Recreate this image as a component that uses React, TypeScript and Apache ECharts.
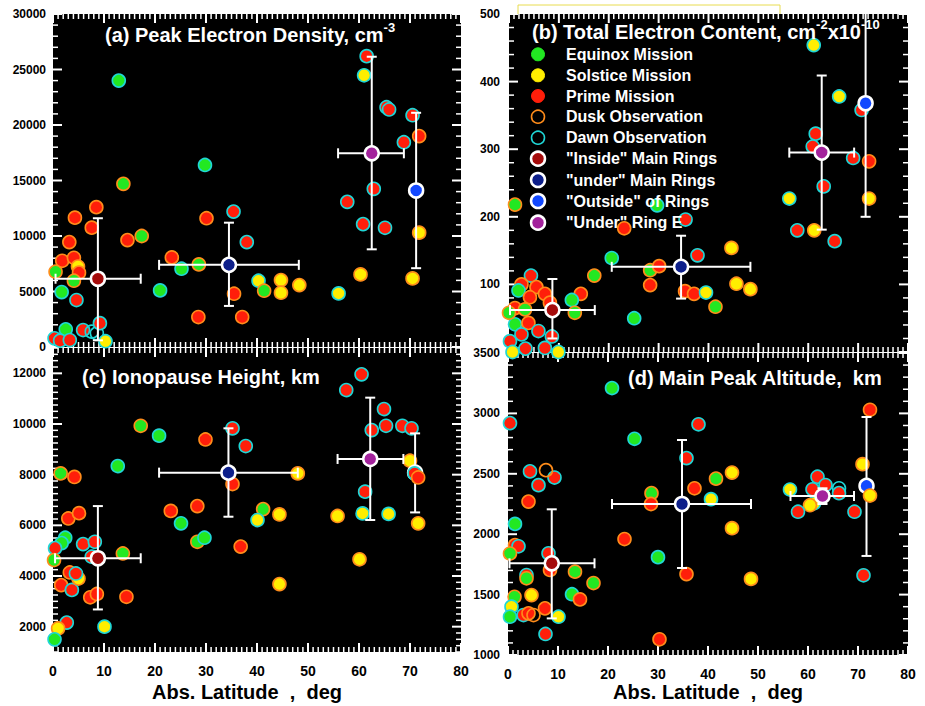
import React, { useEffect, useRef } from 'react';
import * as echarts from 'echarts';

type Pt = [number, number, string];
type Mean = [number, number, number, number, number, number];

// code: mission (E equinox, S solstice, P prime, O open) + observation (k dusk, n dawn)
const densityPoints: Pt[] = [
  [12.9, 24000, 'En'], [13.8, 14700, 'Ek'], [29.8, 16400, 'En'], [8.5, 12600, 'Pk'], [4.3, 11650, 'Pk'],
  [30.1, 11600, 'Pk'], [35.4, 12200, 'Pn'], [38.0, 9450, 'Pn'], [7.6, 10750, 'Pk'], [3.2, 9450, 'Pk'],
  [14.6, 9630, 'Pk'], [17.4, 10000, 'Ek'], [1.8, 7770, 'Pk'], [4.1, 8040, 'Pk'], [4.9, 7250, 'Sk'],
  [5.1, 6700, 'Pk'], [0.5, 6780, 'Ek'], [4.1, 5970, 'Ek'], [1.7, 4950, 'En'], [4.6, 4230, 'Pn'],
  [23.3, 8070, 'Pk'], [25.2, 7050, 'En'], [28.6, 7440, 'Ek'], [21.0, 5100, 'En'], [35.5, 4800, 'Pk'],
  [28.5, 2700, 'Pk'], [37.1, 2700, 'Pk'], [40.3, 5970, 'Sn'], [41.4, 5070, 'Ek'], [44.7, 6030, 'Sk'],
  [44.7, 4890, 'Sk'], [48.3, 5580, 'Sk'], [56.0, 4830, 'Sn'], [60.3, 6540, 'Sk'], [57.7, 13080, 'Pn'],
  [60.8, 11070, 'Pn'], [62.9, 14250, 'Pn'], [65.1, 10740, 'Pn'], [61.5, 26200, 'Pn'], [61.0, 24480, 'Sn'],
  [65.4, 21600, 'Pn'], [65.9, 21400, 'Pn'], [70.5, 20880, 'Pn'], [68.8, 18450, 'Pn'], [71.8, 19000, 'Pk'],
  [71.8, 10300, 'Sk'], [70.5, 6180, 'Sk'], [2.5, 1590, 'En'], [0.3, 780, 'Pn'], [1.4, 570, 'Pn'],
  [3.3, 630, 'Pn'], [5.9, 1530, 'Pn'], [7.6, 1380, 'On'], [8.6, 1230, 'On'], [9.2, 2150, 'Pn'],
  [10.3, 520, 'Sn'],
];
const densityMeans: Mean[] = [
  [8.8, 6150, 0.5, 17.2, 600, 11600],
  [34.5, 7400, 20.8, 48.2, 3700, 11200],
  [71.2, 14100, 71.2, 71.2, 7100, 21100],
  [62.5, 17450, 55.9, 68.8, 8800, 26150],
];

const tecPoints: Pt[] = [
  [61.1, 454, 'Sn'], [66.2, 378, 'Sn'], [70.7, 358, 'Pn'], [61.5, 323, 'Pn'], [60.9, 304, 'Pn'],
  [69.0, 287, 'Pn'], [72.2, 282, 'Pk'], [63.1, 245, 'Pn'], [56.2, 227, 'Sn'], [72.2, 227, 'Sk'],
  [29.7, 217, 'En'], [1.2, 218, 'Ek'], [35.4, 196, 'Pn'], [23.1, 183, 'Pk'], [57.8, 180, 'Pn'],
  [61.2, 180, 'Sk'], [65.3, 164, 'Pn'], [44.6, 154, 'Sk'], [20.6, 139, 'En'], [37.8, 143, 'Pn'],
  [17.1, 113, 'Ek'], [28.3, 121, 'Ek'], [30.1, 127, 'Pk'], [28.3, 99, 'Pk'], [35.3, 90, 'Pk'],
  [37.1, 86, 'Pk'], [39.5, 88, 'Sn'], [45.6, 101, 'Sk'], [48.4, 93, 'Sk'], [41.4, 67, 'Ek'],
  [25.1, 50, 'En'], [4.4, 113, 'Pn'], [2.5, 100, 'Pk'], [1.9, 91, 'En'], [5.5, 96, 'Pk'],
  [7.2, 86, 'Pk'], [4.2, 81, 'Pk'], [14.4, 86, 'Pk'], [12.6, 77, 'En'], [1.2, 65, 'Pk'],
  [3.2, 63, 'Ek'], [13.2, 58, 'Ek'], [8.2, 73, 'Pk'], [1.2, 41, 'En'], [3.9, 43, 'Pk'],
  [5.9, 31, 'Pn'], [2.5, 26, 'Pn'], [8.6, 23, 'Pn'], [0.2, 16, 'Pn'], [3.3, 5, 'Pn'],
  [7.2, 6, 'Pn'], [0.7, 0, 'Sn'], [9.9, 0, 'Sn'], [0.0, 58, 'Ek'],
];
const tecMeans: Mean[] = [
  [8.7, 62, 0.2, 17.2, 20, 108],
  [34.5, 126, 20.6, 48.4, 79, 172],
  [71.5, 368, 71.5, 71.5, 200, 536],
  [62.7, 295, 56.2, 69.2, 181, 409],
];

const ionopausePoints: Pt[] = [
  [60.5, 11960, 'Pn'], [57.5, 11340, 'Pn'], [64.9, 10590, 'Pn'], [65.3, 9930, 'Pn'], [62.5, 9760, 'Pn'],
  [68.5, 9930, 'Pn'], [70.3, 9830, 'Pn'], [61.2, 7330, 'Pn'], [60.7, 6470, 'Sn'], [65.8, 6450, 'Sn'],
  [55.8, 6370, 'Sk'], [60.1, 4660, 'Sk'], [70.0, 8550, 'Sk'], [71.6, 6080, 'Sk'], [48.0, 8050, 'Sk'],
  [35.2, 9830, 'Pn'], [29.9, 9390, 'Pk'], [37.8, 9130, 'Pn'], [35.2, 7630, 'Pk'], [20.8, 9540, 'En'],
  [17.2, 9930, 'Ek'], [12.7, 8340, 'En'], [1.5, 8050, 'Ek'], [4.2, 7910, 'Pk'], [23.1, 6570, 'Pk'],
  [28.3, 6760, 'Pk'], [25.1, 6080, 'En'], [41.2, 6640, 'Ek'], [40.1, 6210, 'Sn'], [44.4, 6430, 'Sk'],
  [28.3, 5350, 'Ek'], [29.7, 5510, 'En'], [36.8, 5160, 'Pk'], [44.4, 3680, 'Sk'], [3.0, 6270, 'Pk'],
  [5.1, 6480, 'Pk'], [13.7, 4890, 'Ek'], [14.4, 3180, 'Pk'], [7.3, 3160, 'Pk'], [8.6, 3290, 'Pk'],
  [1.6, 3640, 'Pk'], [3.7, 3450, 'Pn'], [5.0, 3900, 'Sk'], [3.3, 4140, 'Pk'], [4.5, 4100, 'Pn'],
  [5.9, 5260, 'Pn'], [8.2, 5350, 'Pn'], [7.6, 4760, 'Pn'], [2.4, 5510, 'En'], [1.7, 5300, 'En'],
  [0.4, 5100, 'Pn'], [0.2, 4630, 'Ek'], [2.7, 2160, 'Pn'], [1.0, 1930, 'Sk'], [0.3, 1500, 'En'],
  [10.1, 2000, 'Sn'],
];
const ionopauseLate: Pt[] = [[70.9, 8050, 'Pn'], [71.6, 7890, 'Pk']];
const ionopauseMeans: Mean[] = [
  [8.8, 4700, 0.4, 17.2, 2680, 6760],
  [34.4, 8080, 20.8, 48.0, 6340, 9830],
  [71.0, 8080, 71.0, 71.0, 6510, 9630],
  [62.2, 8620, 55.8, 68.7, 6210, 11040],
];

const peakAltPoints: Pt[] = [
  [20.8, 3210, 'En'], [0.4, 2920, 'Pn'], [38.1, 2910, 'Pn'], [25.3, 2790, 'En'], [72.4, 3030, 'Pk'],
  [70.9, 2580, 'Sk'], [71.1, 1660, 'Pn'], [35.7, 2630, 'Pn'], [35.7, 1670, 'Pk'],
  [37.3, 2380, 'Pk'], [41.6, 2460, 'Ek'], [44.8, 2510, 'Sk'], [40.6, 2290, 'Sn'], [44.8, 2050, 'Sk'],
  [48.6, 1630, 'Sk'], [28.7, 2340, 'Ek'], [28.6, 2250, 'Pk'], [23.3, 1960, 'Pk'], [30.0, 1810, 'En'],
  [30.3, 1130, 'Pk'], [56.4, 2370, 'Sn'], [61.9, 2476, 'Pn'], [63.5, 2407, 'Pn'], [60.9, 2372, 'Pn'],
  [66.2, 2380, 'On'], [66.2, 2340, 'Pn'], [61.2, 2256, 'Sn'], [60.4, 2240, 'Sk'], [58.0, 2186, 'Pn'],
  [69.3, 2186, 'Pn'], [4.1, 2270, 'Pk'], [1.4, 2085, 'En'], [1.4, 1910, 'Pk'], [2.1, 1900, 'Pn'],
  [0.4, 1840, 'Ek'], [8.1, 1842, 'Pn'], [8.4, 1704, 'Pk'], [3.7, 1662, 'Pn'], [3.7, 1635, 'Ek'],
  [13.4, 1690, 'Ek'], [17.1, 1596, 'Ek'], [12.8, 1503, 'En'], [14.4, 1460, 'Pk'], [4.7, 1496, 'Sk'],
  [1.3, 1482, 'Ek'], [0.7, 1400, 'Sn'], [0.4, 1317, 'En'], [3.1, 1331, 'Pn'], [4.1, 1345, 'Pk'],
  [5.1, 1331, 'Ok'], [7.4, 1386, 'Pk'], [10.1, 1317, 'Sn'], [7.5, 1174, 'Pn'], [4.4, 2520, 'Pn'],
  [6.1, 2406, 'Pn'], [9.3, 2469, 'Pn'], [7.6, 2530, 'Ok'],
];
const peakAltLate: Pt[] = [[72.4, 2320, 'Sk']];
const peakAltMeans: Mean[] = [
  [8.75, 1759, 0.3, 17.3, 1303, 2206],
  [34.8, 2250, 20.8, 48.6, 1720, 2780],
  [71.7, 2400, 71.7, 71.7, 1820, 2970],
  [62.9, 2316, 56.5, 69.2, 2250, 2380],
];

const meanKinds = ['inside', 'under', 'outside', 'ringE'];

const legendLabels = [
  'Equinox Mission', 'Solstice Mission', 'Prime Mission', 'Dusk Observation', 'Dawn Observation',
  '"Inside" Main Rings', '"under" Main Rings', '"Outside" of Rings', '"Under" Ring E',
];

// axis ranges: [min, max, label interval, major tick step, minor tick step]
const latAxis = [0, 80, 10, 10, 1];
const densityAxis = [0, 30000, 5000, 5000, 1000];
const tecAxis = [0, 500, 100, 100, 20];
const ionopauseAxis = [1000, 13000, 1000, 2000, 250];
const peakAltAxis = [1000, 3500, 500, 500, 100];

const FONT = '"Liberation Sans", Arial, sans-serif';
const FILL: Record<string, string> = { E: '#22e822', S: '#ffee00', P: '#ff1e0a', O: 'rgba(0,0,0,0)' };
const EDGE: Record<string, string> = { k: '#ff8c1a', n: '#1fd6d6' };
const MEAN_COLOR: Record<string, string> = {
  inside: '#a50b0b', under: '#0d1f8a', outside: '#1248ff', ringE: '#a3229c',
};

const GRIDS = [
  { left: 53, top: 14, width: 408, height: 333 },
  { left: 509, top: 14, width: 399, height: 338 },
  { left: 53, top: 348, width: 408, height: 304 },
  { left: 508, top: 353, width: 400, height: 302 },
];

function steps(min: number, max: number, step: number) {
  const out: number[] = [];
  const n = Math.round((max - min) / step);
  for (let i = 0; i <= n; i++) out.push(min + i * step);
  return out;
}

function isMajor(v: number, step: number) {
  const r = Math.abs(v / step - Math.round(v / step));
  return r < 1e-6;
}

function pointItems(pts: Pt[]) {
  return pts.map((p) => ({
    value: [p[0], p[1]],
    itemStyle: { color: FILL[p[2][0]], borderColor: EDGE[p[2][1]] },
  }));
}

function backgroundSeries(gi: number, xa: number[], ya: number[]) {
  return {
    type: 'custom', xAxisIndex: gi * 2, yAxisIndex: gi * 2, data: [[xa[0], ya[0]]], encode: { x: 0, y: 1 },
    z: 1, clip: false, silent: true,
    renderItem: (params: any) => {
      const cs = params.coordSys;
      return { type: 'rect', shape: { x: cs.x, y: cs.y, width: cs.width, height: cs.height }, style: { fill: '#000000' } };
    },
  };
}

// ticks drawn as small white rect symbols of a scatter series, placed on the axis scale
function tickSeries(gi: number, xa: number[], ya: number[]) {
  const mk = (value: number[], major: boolean, horiz: boolean, sign: number) => {
    const len = major ? 9 : 5;
    const w = major ? 2 : 1.5;
    return {
      value,
      symbolSize: horiz ? [len, w] : [w, len],
      symbolOffset: horiz ? [sign * len / 2, 0] : [0, sign * len / 2],
    };
  };
  const data: any[] = [];
  steps(xa[0], xa[1], xa[4]).forEach((v) => {
    const m = isMajor(v, xa[3]);
    data.push(mk([v, ya[0]], m, false, -1));
    data.push(mk([v, ya[1]], m, false, 1));
  });
  steps(ya[0], ya[1], ya[4]).forEach((v) => {
    const m = isMajor(v, ya[3]);
    data.push(mk([xa[0], v], m, true, 1));
    data.push(mk([xa[1], v], m, true, -1));
  });
  return {
    type: 'scatter', xAxisIndex: gi * 2, yAxisIndex: gi * 2, data, symbol: 'rect', clip: false, z: 2,
    silent: true, large: false, progressive: 0,
    itemStyle: { color: '#ffffff', borderWidth: 0, opacity: 1 },
  };
}

function panelSeries(gi: number, pts: Pt[], means: Mean[], yAx: number[], late: Pt[] = []) {
  const axes = { xAxisIndex: gi * 2, yAxisIndex: gi * 2 };
  const out: any[] = [
    backgroundSeries(gi, latAxis, yAx),
    tickSeries(gi, latAxis, yAx),
    {
      type: 'scatter', ...axes, data: pointItems(pts), symbolSize: 13, clip: false, z: 3,
      itemStyle: { borderWidth: 1.6, opacity: 1 },
    },
    {
      type: 'custom', ...axes, data: means.map((m) => [...m]), encode: { x: 0, y: 1 }, z: 4, clip: false,
      renderItem: (params: any, api: any) => {
        const cs = params.coordSys;
        const c = api.coord([api.value(0), api.value(1)]);
        const xl = api.coord([api.value(2), api.value(1)])[0];
        const xh = api.coord([api.value(3), api.value(1)])[0];
        const yl = api.coord([api.value(0), api.value(4)])[1];
        const yh = api.coord([api.value(0), api.value(5)])[1];
        const st = { stroke: '#ffffff', lineWidth: 2 };
        const cap = 5;
        const top = cs.y;
        const children: any[] = [];
        const yTop = Math.max(yh, top);
        children.push({ type: 'line', shape: { x1: c[0], y1: yTop, x2: c[0], y2: yl }, style: st });
        if (yh >= top) children.push({ type: 'line', shape: { x1: c[0] - cap, y1: yh, x2: c[0] + cap, y2: yh }, style: st });
        children.push({ type: 'line', shape: { x1: c[0] - cap, y1: yl, x2: c[0] + cap, y2: yl }, style: st });
        if (xh - xl > 1) {
          children.push({ type: 'line', shape: { x1: xl, y1: c[1], x2: xh, y2: c[1] }, style: st });
          children.push({ type: 'line', shape: { x1: xl, y1: c[1] - cap, x2: xl, y2: c[1] + cap }, style: st });
          children.push({ type: 'line', shape: { x1: xh, y1: c[1] - cap, x2: xh, y2: c[1] + cap }, style: st });
        }
        return { type: 'group', children };
      },
    },
    {
      type: 'scatter', ...axes, symbolSize: 14, clip: false, z: 5,
      itemStyle: { borderColor: '#ffffff', borderWidth: 2.5, opacity: 1 },
      data: means.map((m, i) => ({ value: [m[0], m[1]], itemStyle: { color: MEAN_COLOR[meanKinds[i]] } })),
    },
  ];
  if (late.length) {
    out.push({
      type: 'scatter', ...axes, data: pointItems(late), symbolSize: 13, clip: false, z: 6,
      itemStyle: { borderWidth: 1.6, opacity: 1 },
    });
  }
  return out;
}

function xAxisFor(gi: number, labels: boolean) {
  return {
    type: 'value', gridIndex: gi, min: latAxis[0], max: latAxis[1], interval: latAxis[2], position: 'bottom',
    axisLine: { show: false }, splitLine: { show: false }, axisTick: { show: false }, minorTick: { show: false },
    axisLabel: labels
      ? { show: true, fontSize: 14, fontWeight: 'bold', fontFamily: FONT, color: '#000', margin: 12 }
      : { show: false },
  };
}

function yAxisFor(gi: number, ax: number[], margin: number, extra: any = {}) {
  return {
    type: 'value', gridIndex: gi, min: ax[0], max: ax[1], interval: ax[2], position: 'left',
    axisLine: { show: false }, splitLine: { show: false }, axisTick: { show: false }, minorTick: { show: false },
    axisLabel: {
      show: true, fontSize: 12, fontWeight: 'bold', fontFamily: FONT, color: '#000', margin,
      formatter: (v: number) => String(v), ...extra,
    },
  };
}

const supRich = {
  m: { fill: '#ffffff', fontSize: 20, fontWeight: 'bold', fontFamily: FONT },
  s: { fill: '#ffffff', fontSize: 13, fontWeight: 'bold', fontFamily: FONT, padding: [0, 0, 16, 0] },
};

function titleText(x: number, y: number, text: string) {
  return {
    type: 'text', x, y, z: 20,
    style: { text, rich: supRich, verticalAlign: 'middle', align: 'left', fill: '#ffffff' },
  };
}

function legendGraphics() {
  const rowsY = [54.3, 75.3, 96, 116.7, 137.7, 158.7, 180, 201, 222.7];
  const markers: any[] = [
    { fill: FILL.E, stroke: FILL.E, lineWidth: 1 },
    { fill: FILL.S, stroke: FILL.S, lineWidth: 1 },
    { fill: FILL.P, stroke: FILL.P, lineWidth: 1 },
    { fill: 'none', stroke: EDGE.k, lineWidth: 1.6 },
    { fill: 'none', stroke: EDGE.n, lineWidth: 1.6 },
    ...meanKinds.map((k) => ({ fill: MEAN_COLOR[k], stroke: '#ffffff', lineWidth: 2.5 })),
  ];
  const out: any[] = [];
  legendLabels.forEach((label, i) => {
    out.push({
      type: 'circle', z: 20, shape: { cx: 538, cy: rowsY[i], r: i >= 5 ? 7 : 6.5 }, style: markers[i],
    });
    out.push({
      type: 'text', x: 566, y: rowsY[i], z: 20,
      style: { text: label, fill: '#ffffff', fontSize: 16, fontWeight: 'bold', fontFamily: FONT, verticalAlign: 'middle' },
    });
  });
  return out;
}

export default function App() {
  const ref = useRef<HTMLDivElement>(null);
  useEffect(() => {
    if (!ref.current) return;
    const chart = echarts.init(ref.current, null, { renderer: 'svg' });
    const axisName = (x: number) => ({
      type: 'text', x, y: 692, z: 20,
      style: { text: 'Abs. Latitude  ,  deg', fill: '#000', fontSize: 20, fontWeight: 'bold', fontFamily: FONT, align: 'center', verticalAlign: 'middle' },
    });
    const option: any = {
      animation: false,
      backgroundColor: '#ffffff',
      grid: GRIDS.map((g) => ({ ...g, show: false })),
      xAxis: [xAxisFor(0, false), xAxisFor(0, false), xAxisFor(1, false), xAxisFor(1, false),
        xAxisFor(2, true), xAxisFor(2, false), xAxisFor(3, true), xAxisFor(3, false)].map((a, i) =>
        i % 2 === 1 ? { ...a, position: 'top', axisLabel: { show: false } } : a),
      yAxis: [
        yAxisFor(0, densityAxis, 7), { ...yAxisFor(0, densityAxis, 7), position: 'right', axisLabel: { show: false } },
        yAxisFor(1, tecAxis, 9, { showMinLabel: false }), { ...yAxisFor(1, tecAxis, 9), position: 'right', axisLabel: { show: false } },
        yAxisFor(2, ionopauseAxis, 7, { formatter: (v: number) => (v % 2000 === 0 ? String(v) : '') }),
        { ...yAxisFor(2, ionopauseAxis, 7), position: 'right', axisLabel: { show: false } },
        yAxisFor(3, peakAltAxis, 8), { ...yAxisFor(3, peakAltAxis, 8), position: 'right', axisLabel: { show: false } },
      ],
      series: [
        ...panelSeries(0, densityPoints, densityMeans, densityAxis),
        ...panelSeries(1, tecPoints, tecMeans, tecAxis),
        ...panelSeries(2, ionopausePoints, ionopauseMeans, ionopauseAxis, ionopauseLate),
        ...panelSeries(3, peakAltPoints, peakAltMeans, peakAltAxis, peakAltLate),
      ],
      graphic: [
        titleText(105, 35, '{m|(a) Peak Electron Density, cm}{s|-3}'),
        titleText(532, 32, '{m|(b) Total Electron Content, cm}{s|-2}{m|x10}{s|-10}'),
        titleText(82, 377, '{m|(c) Ionopause Height, km}'),
        titleText(628, 378, '{m|(d) Main Peak Altitude,  km}'),
        ...legendGraphics(),
        {
          type: 'polyline', z: 20,
          shape: { points: [[518, 14], [518, 5], [780, 5], [780, 14]] },
          style: { stroke: '#e8dc50', lineWidth: 1, fill: 'none' },
        },
        axisName(247),
        axisName(708),
      ],
    };
    chart.setOption(option);
    return () => chart.dispose();
  }, []);
  return <div ref={ref} style={{ position: 'absolute', left: 0, top: 0, width: 925, height: 706 }} />;
}
